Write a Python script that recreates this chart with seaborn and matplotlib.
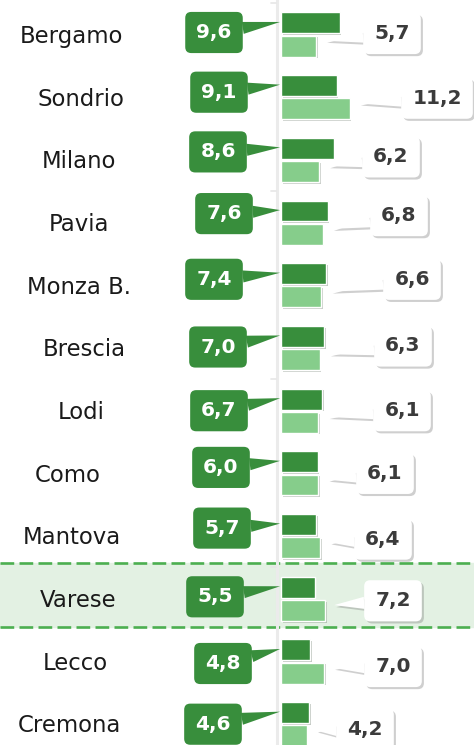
import pandas as pd
import matplotlib
matplotlib.use("Agg")
import matplotlib.pyplot as plt
import matplotlib.patheffects as pe
import seaborn as sns

# Data
province = ["Bergamo", "Sondrio", "Milano", "Pavia", "Monza B.", "Brescia",
            "Lodi", "Como", "Mantova", "Varese", "Lecco", "Cremona"]
serie_a = [9.6, 9.1, 8.6, 7.6, 7.4, 7.0, 6.7, 6.0, 5.7, 5.5, 4.8, 4.6]
serie_b = [5.7, 11.2, 6.2, 6.8, 6.6, 6.3, 6.1, 6.1, 6.4, 7.2, 7.0, 4.2]
highlight = "Varese"

# Layout (pixels in the 474x745 image)
label_x = [71, 81, 79, 79, 79, 84, 81, 68, 72, 78, 75, 69]
box_a = [(214, -2), (219, -5), (218, -8), (224, -9), (214, -6), (218, -1),
         (219, 0), (221, -6), (222, -8), (215, -2), (223, 2), (213, 0)]
box_b = [(392, -1), (437, 1), (391, -3), (399, -7), (412, -6), (403, -2),
         (402, 0), (385, 0), (383, 3), (393, 2), (393, 5), (365, 5)]

DARK = "#388e3c"
LIGHT = "#86cd8b"
X0, PXU, Y0, PXR = 281, 6.12, 34.5, 62.7


def px2x(px):
    return (px - X0) / PXU


def fmt(v):
    return f"{v:.1f}".replace(".", ",")


df = pd.DataFrame({
    "provincia": province * 2,
    "serie": ["a"] * len(province) + ["b"] * len(province),
    "valore": serie_a + serie_b,
})

sns.set_theme(style="white")
plt.rcParams["font.family"] = ["DejaVu Sans"]

fig = plt.figure(figsize=(4.74, 7.45), dpi=100)
ax = fig.add_axes([0, 0, 1, 1])

sns.barplot(data=df, y="provincia", x="valore", hue="serie", orient="h",
            palette=[DARK, LIGHT], saturation=1, width=0.74, gap=0.1,
            legend=False, ax=ax, zorder=3)
for p in ax.patches:
    p.set_path_effects([pe.SimplePatchShadow(offset=(1.2, -1.2), alpha=0.25), pe.Normal()])

ax.set_xlim(px2x(0), px2x(474))
ax.set_ylim((745 - Y0) / PXR, -Y0 / PXR)
ax.axis("off")

# highlighted row
hi = province.index(highlight)
y_top, y_bot = hi - 0.57, hi + 0.45
ax.axhspan(y_top, y_bot, color="#e3f1e3", zorder=0)
for yy in (y_top, y_bot):
    ax.axhline(yy, color="#4caf50", lw=1.9, ls=(0, (5.2, 2)), zorder=1)

# axis line
ax.axvline(px2x(277), color="#ebebeb", lw=2.2, zorder=2)
for r in (-0.5, 2.5, 5.5, 8.5):
    ax.plot([px2x(271), px2x(276)], [r, r], color="#e6e6e6", lw=1.2, zorder=2)

for i, prov in enumerate(province):
    ax.text(px2x(label_x[i]), i + 8.3 / PXR, prov, ha="center", va="baseline",
            fontsize=16.4, color="#1a1a1a", zorder=5)

    bx, dy = box_a[i]
    ax.annotate(fmt(serie_a[i]), xy=(-0.15, i - 0.2), xytext=(px2x(bx), i + dy / PXR),
                ha="center", va="center", fontsize=14.5, fontweight="bold", color="white",
                bbox=dict(boxstyle="round,pad=0.55,rounding_size=0.3", fc=DARK, ec="none"),
                arrowprops=dict(arrowstyle="wedge,tail_width=0.6,shrink_factor=0.5",
                                fc=DARK, ec="none", shrinkA=0, shrinkB=0),
                zorder=6)

    bx, dy = box_b[i]
    ann = ax.annotate(fmt(serie_b[i]), xy=(serie_b[i] + 1.5, i + 0.1),
                      xytext=(px2x(bx), i + dy / PXR),
                      ha="center", va="center", fontsize=14.5, fontweight="bold",
                      color="#3b3b3b",
                      bbox=dict(boxstyle="round,pad=0.55,rounding_size=0.3", fc="white", ec="none"),
                      arrowprops=dict(arrowstyle="wedge,tail_width=0.6,shrink_factor=0.5",
                                      fc="white", ec="none", shrinkA=0, shrinkB=0),
                      zorder=6)
    shadow = [pe.SimplePatchShadow(offset=(1.5, -1.5), shadow_rgbFace="#777777", alpha=0.35),
              pe.Normal()]
    ann.get_bbox_patch().set_path_effects(shadow)
    ann.arrow_patch.set_path_effects(shadow)

fig.savefig("out.png", dpi=100)
plt.close()
